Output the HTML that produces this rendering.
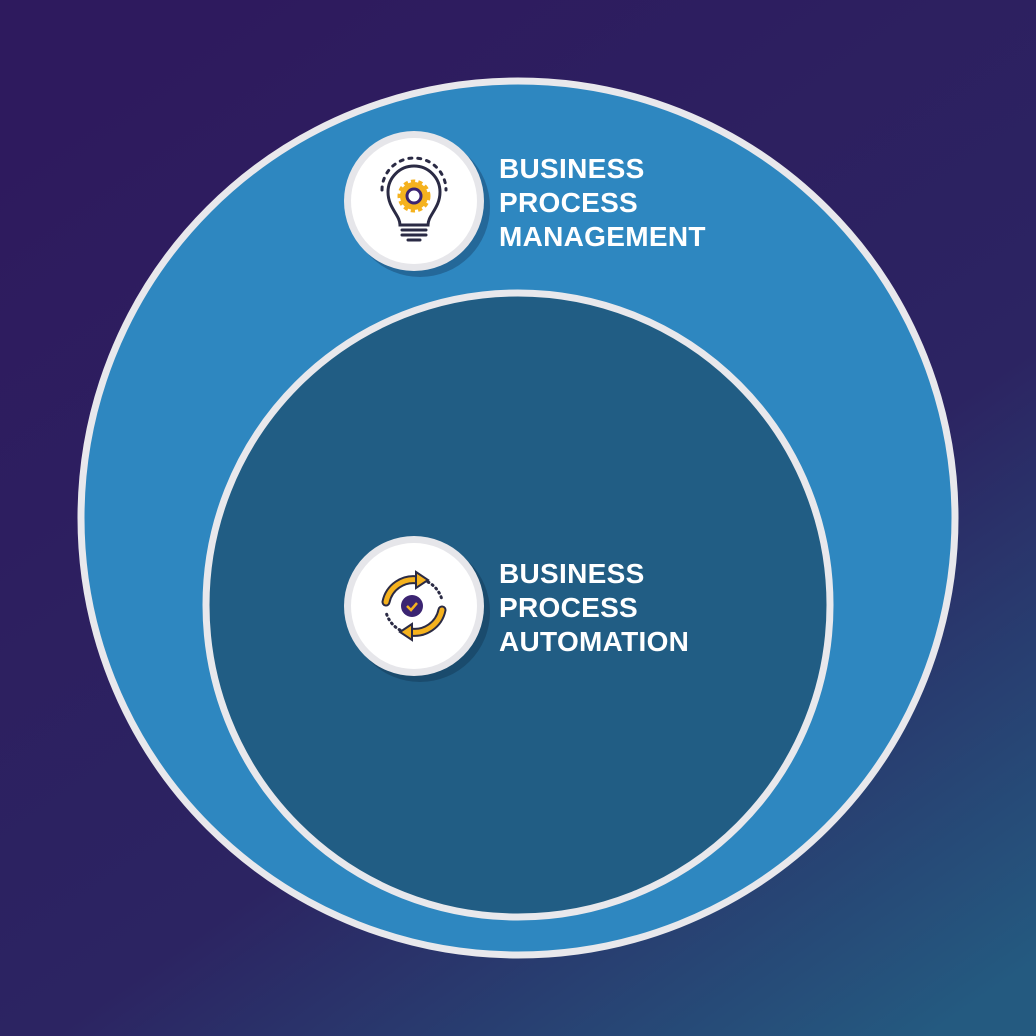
<!DOCTYPE html>
<html><head><style>
html,body{margin:0;padding:0;width:1036px;height:1036px;overflow:hidden}
</style></head><body>
<svg width="1036" height="1036" viewBox="0 0 1036 1036" xmlns="http://www.w3.org/2000/svg">
<defs>
<linearGradient id="bg" x1="0.2" y1="0" x2="0.9" y2="1">
<stop offset="0" stop-color="#2e1a5e"/><stop offset="0.6" stop-color="#2c2462"/><stop offset="1" stop-color="#245a80"/>
</linearGradient>
</defs>
<rect width="1036" height="1036" fill="url(#bg)"/>
<circle cx="518" cy="518" r="437" fill="#2e87c0" stroke="#e8e8ec" stroke-width="7"/>
<circle cx="518" cy="605" r="312" fill="#215d84" stroke="#e8e8ec" stroke-width="7"/>
<!-- top icon -->
<circle cx="420" cy="207" r="70" fill="#1d4f78" opacity="0.55"/>
<circle cx="414" cy="201" r="70" fill="#e6e6ea"/>
<circle cx="414" cy="201" r="63" fill="#ffffff"/>
<g fill="none" stroke="#2a2a44" stroke-width="3" stroke-linecap="round">
<path d="M400 225 C400 215 388 208 388 192 A26 26 0 0 1 440 192 C440 208 428 215 428 225 Z"/>
<line x1="402" y1="230" x2="426" y2="230"/><line x1="402" y1="235" x2="426" y2="235"/><line x1="408" y1="240" x2="420" y2="240"/>
<g stroke-dasharray="3 6"><path d="M382 190 A32 32 0 0 1 446 190"/></g>
</g>
<circle cx="414" cy="196" r="14" fill="#f5b21e" stroke="#f5b21e" stroke-width="5" stroke-dasharray="4 3"/>
<circle cx="414" cy="196" r="7" fill="#fff" stroke="#3b2472" stroke-width="3"/>
<!-- bottom icon -->
<circle cx="420" cy="612" r="70" fill="#163f5e" opacity="0.6"/>
<circle cx="414" cy="606" r="70" fill="#e6e6ea"/>
<circle cx="414" cy="606" r="63" fill="#ffffff"/>
<g fill="none" stroke-linecap="round">
<path d="M386 602 A28 28 0 0 1 418 580" stroke="#2a2a44" stroke-width="9"/>
<path d="M386 602 A28 28 0 0 1 418 580" stroke="#f5b21e" stroke-width="5"/>
<path d="M442 610 A28 28 0 0 1 410 632" stroke="#2a2a44" stroke-width="9"/>
<path d="M442 610 A28 28 0 0 1 410 632" stroke="#f5b21e" stroke-width="5"/>
<path d="M428 582 A28 28 0 0 1 442 600" stroke="#2a2a44" stroke-width="3" stroke-dasharray="1 4"/>
<path d="M400 630 A28 28 0 0 1 386 612" stroke="#2a2a44" stroke-width="3" stroke-dasharray="1 4"/>
</g>
<polygon points="416,572 428,580 416,588" fill="#f5b21e" stroke="#2a2a44" stroke-width="2"/>
<polygon points="412,624 400,632 412,640" fill="#f5b21e" stroke="#2a2a44" stroke-width="2"/>
<circle cx="412" cy="606" r="11" fill="#3b2472"/>
<path d="M407 606 l4 4 l6 -7" fill="none" stroke="#f5b21e" stroke-width="2.5"/>
<g font-family="Liberation Sans, sans-serif" font-weight="bold" font-size="28" letter-spacing="0.3" fill="#ffffff">
<text x="499" y="178">BUSINESS</text>
<text x="499" y="212">PROCESS</text>
<text x="499" y="246">MANAGEMENT</text>
<text x="499" y="583">BUSINESS</text>
<text x="499" y="617">PROCESS</text>
<text x="499" y="651">AUTOMATION</text>
</g>
</svg>
</body></html>
